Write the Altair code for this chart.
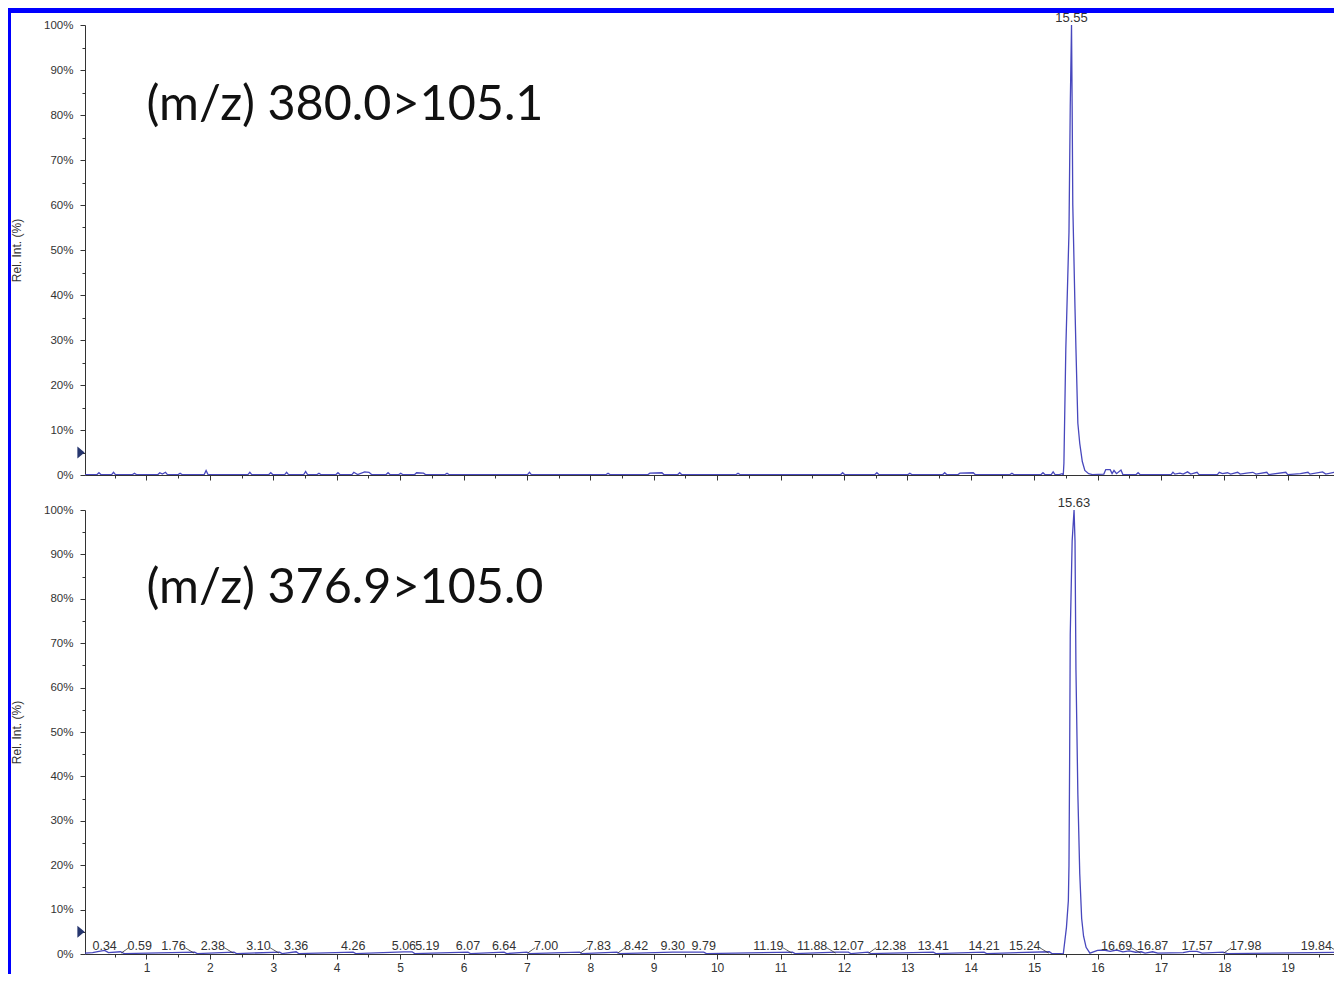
import altair as alt
import pandas as pd

# ---------------- data ----------------
# upper trace: (m/z) 380.0>105.1
top_time = [0.03, 0.22, 0.25, 0.28, 0.45, 0.48, 0.51, 0.78, 0.81, 0.84, 1.18, 1.21, 1.25, 1.30, 1.33,
            1.50, 1.53, 1.56, 1.91, 1.94, 1.97, 2.60, 2.63, 2.66, 2.93, 2.96, 2.99, 3.18, 3.21, 3.24,
            3.48, 3.51, 3.54, 3.69, 3.72, 3.75, 3.99, 4.02, 4.05, 4.24, 4.27, 4.33, 4.44, 4.51, 4.55,
            4.78, 4.81, 4.84, 4.98, 5.01, 5.04, 5.23, 5.26, 5.37, 5.40, 5.71, 5.74, 5.77, 7.01, 7.04,
            7.07, 8.25, 8.28, 8.31, 8.91, 8.94, 9.13, 9.16, 9.38, 9.41, 9.44, 10.30, 10.33, 10.36,
            11.95, 11.98, 12.01, 12.49, 12.52, 12.55, 13.01, 13.04, 13.07, 13.56, 13.59, 13.62,
            13.80, 13.83, 14.04, 14.07, 14.62, 14.65, 14.68, 15.11, 15.14, 15.17, 15.27, 15.30,
            15.33, 15.40, 15.44, 15.46, 15.47, 15.50, 15.55, 15.57, 15.59, 15.60, 15.61, 15.645,
            15.66, 15.69, 15.72, 15.76, 15.80, 15.86, 15.92, 16.10, 16.13, 16.20, 16.23, 16.26,
            16.30, 16.37, 16.40, 16.61, 16.64, 16.67, 17.16, 17.19, 17.22, 17.30, 17.35, 17.42,
            17.47, 17.57, 17.60, 17.89, 17.92, 17.97, 18.05, 18.10, 18.21, 18.25, 18.35, 18.45,
            18.50, 18.67, 18.70, 18.97, 19.00, 19.20, 19.32, 19.35, 19.55, 19.60, 19.73, 19.85]
top_int = [0.1, 0.1, 0.5, 0.1, 0.1, 0.6, 0.1, 0.1, 0.4, 0.1, 0.1, 0.5, 0.2, 0.6, 0.1,
           0.1, 0.4, 0.1, 0.1, 1.0, 0.1, 0.1, 0.6, 0.1, 0.1, 0.5, 0.1, 0.1, 0.6, 0.1,
           0.1, 0.8, 0.1, 0.1, 0.4, 0.1, 0.1, 0.5, 0.1, 0.1, 0.6, 0.1, 0.7, 0.6, 0.1,
           0.1, 0.5, 0.1, 0.1, 0.4, 0.1, 0.1, 0.5, 0.4, 0.1, 0.1, 0.4, 0.1, 0.1, 0.6,
           0.1, 0.1, 0.4, 0.1, 0.1, 0.4, 0.5, 0.1, 0.1, 0.5, 0.1, 0.1, 0.4, 0.1,
           0.1, 0.5, 0.1, 0.1, 0.5, 0.1, 0.1, 0.4, 0.1, 0.1, 0.5, 0.1,
           0.1, 0.4, 0.5, 0.1, 0.1, 0.4, 0.1, 0.1, 0.5, 0.1, 0.1, 0.7,
           0.1, 0.1, 0.3, 0.0, 2.6, 28.0, 54.0, 82.0, 100.0, 82.0, 60.0, 37.0,
           28.0, 11.5, 7.0, 3.0, 1.0, 0.3, 0.1, 0.2, 1.2, 1.2, 0.3, 1.0,
           0.3, 1.1, 0.1, 0.1, 0.5, 0.1, 0.1, 0.6, 0.2, 0.4, 0.2, 0.7,
           0.2, 0.6, 0.1, 0.1, 0.6, 0.3, 0.5, 0.2, 0.6, 0.2, 0.4, 0.6,
           0.2, 0.6, 0.1, 0.6, 0.1, 0.3, 0.6, 0.2, 0.7, 0.2, 0.6, 0.3]

# lower trace: (m/z) 376.9>105.0
bot_time = [0.03, 0.15, 0.25, 0.34, 0.40, 0.59, 0.65, 1.76, 1.80, 2.38, 2.42, 3.10, 3.14, 3.36, 3.40,
            4.26, 4.30, 5.06, 5.19, 5.23, 6.07, 6.11, 6.64, 6.68, 7.00, 7.04, 7.83, 7.87, 8.42, 8.46,
            9.30, 9.79, 9.83, 11.19, 11.23, 11.88, 12.07, 12.11, 12.38, 12.42, 13.41, 13.45, 14.21,
            14.25, 15.24, 15.28, 15.42, 15.46, 15.51, 15.54, 15.55, 15.56, 15.57, 15.60, 15.63,
            15.645, 15.66, 15.69, 15.72, 15.75, 15.78, 15.82, 15.88, 16.00, 16.10, 16.20, 16.30,
            16.40, 16.50, 16.60, 16.69, 16.75, 16.87, 16.95, 17.35, 17.45, 17.57, 17.65, 17.98,
            18.05, 19.84, 19.85]
bot_int = [0.2, 0.3, 0.6, 0.8, 0.3, 0.5, 0.1, 0.4, 0.1, 0.4, 0.1, 0.4, 0.1, 0.5, 0.1,
           0.4, 0.1, 0.5, 0.5, 0.1, 0.4, 0.1, 0.4, 0.1, 0.4, 0.1, 0.4, 0.1, 0.4, 0.1,
           0.4, 0.4, 0.1, 0.4, 0.1, 0.4, 0.4, 0.1, 0.4, 0.1, 0.4, 0.1, 0.4,
           0.1, 0.5, 0.1, 0.1, 0.0, 6.0, 12.0, 20.0, 43.0, 72.0, 93.0, 100.0,
           93.0, 64.0, 36.0, 18.0, 8.0, 4.0, 1.5, 0.2, 0.8, 0.9, 0.6, 0.9,
           0.5, 0.7, 0.4, 0.5, 0.2, 0.5, 0.2, 0.3, 0.6, 0.6, 0.2, 0.4,
           0.1, 0.4, 0.3]

top_peak_time = [15.59]
top_peak_label = ["15.55"]
bot_peak_time = [15.63]
bot_peak_label = ["15.63"]

# small peak labels of the lower trace; side: c = centred, L = left with leader,
# R = right with leader, r = right without leader
label_time = [0.34, 0.59, 1.76, 2.38, 3.10, 3.36, 4.26, 5.06, 5.19, 6.07, 6.64, 7.00, 7.83, 8.42,
              9.30, 9.79, 11.19, 11.88, 12.07, 12.38, 13.41, 14.21, 15.24, 16.69, 16.87, 17.57,
              17.98, 19.84]
label_side = ["c", "R", "L", "L", "L", "c", "c", "c", "r", "c", "c", "R", "R", "R",
              "c", "c", "L", "L", "c", "R", "c", "c", "L", "L", "c", "c",
              "R", "L"]

transitions = ["(m/z) 380.0>105.1", "(m/z) 376.9>105.0"]
marker_level = [5]

x_tick_values = [0.5 * i for i in range(1, 40)]
y_tick_values = list(range(0, 101, 5))

# ---------------- styling ----------------
W = 1249
H_TOP = 450
H_BOT = 444
LINE = "#4747bd"
AXC = "#333333"
FONT = "Liberation Sans"
BLUE = "#0000ff"

xs = alt.Scale(domain=[0.03, 19.73], nice=False, zero=False)
ys = alt.Scale(domain=[0, 100], nice=False)

tick_cond_x = {"condition": {"test": "datum.value % 1 !== 0", "value": 3}, "value": 5}
tick_cond_y = {"condition": {"test": "datum.value % 10 !== 0", "value": 3}, "value": 5}


def x_axis(show_labels):
    kw = dict(values=x_tick_values, tickSize=tick_cond_x, grid=False, domainColor=AXC,
              tickColor=AXC, labelColor=AXC, labelFont=FONT, labelFontSize=12,
              labelPadding=3, title=None)
    if show_labels:
        return alt.Axis(labelExpr="datum.value % 1 === 0 ? format(datum.value, 'd') : ''",
                        labelFlush=False, labelOverlap=False, **kw)
    return alt.Axis(labels=False, **kw)


def y_axis():
    return alt.Axis(values=y_tick_values, tickSize=tick_cond_y, grid=False, domainColor=AXC,
                    tickColor=AXC, labelColor=AXC, labelFont=FONT, labelFontSize=11.5,
                    labelPadding=7, labelExpr="datum.value % 10 === 0 ? datum.value + '%' : ''",
                    labelOverlap=False, title="Rel. Int. (%)", titleFont=FONT, titleFontSize=12,
                    titleFontWeight="normal", titleColor=AXC, titlePadding=20)


one = pd.DataFrame({"a": [0]})


def panel(times, ints, peak_t, peak_lab, transition, height, bottom):
    def X(field):
        return alt.X(field, scale=xs, axis=x_axis(bottom))

    def Y(field):
        return alt.Y(field, scale=ys, axis=y_axis())

    df = pd.DataFrame({"t": times, "v": ints})
    line = alt.Chart(df).mark_line(color=LINE, strokeWidth=1.3, clip=True).encode(
        x=X("t:Q"), y=Y("v:Q"))
    pk = pd.DataFrame({"t": peak_t, "v": [100] * len(peak_t), "lab": peak_lab})
    peak_text = alt.Chart(pk).mark_text(font=FONT, fontSize=13, color=AXC, baseline="alphabetic",
                                        dy=-3).encode(x=X("t:Q"), y=Y("v:Q"), text="lab:N")
    ann = pd.DataFrame({"t": [1.0], "v": [79.0], "lab": [transition]})
    ann_text = alt.Chart(ann).mark_text(font="Lato", fontSize=48.5, color="#111111", align="left",
                                        baseline="alphabetic").encode(
        x=X("t:Q"), y=Y("v:Q"), text="lab:N")
    mk = pd.DataFrame({"t": [0.03], "v": marker_level})
    marker = alt.Chart(mk).mark_point(shape="M-0.6,-1L0.6,0L-0.6,1Z", filled=True, size=144,
                                      color="#26366e", opacity=1).encode(
        x=X("t:Q"), y=Y("v:Q"), xOffset=alt.value(-4))
    layers = [line, peak_text, ann_text, marker]

    if bottom:
        lab = pd.DataFrame({"t": label_time, "side": label_side})
        base = alt.Chart(lab).transform_calculate(lab="format(datum.t, '.2f')", v="0")
        for side, align, dx in [("c", "center", 0), ("L", "right", -9),
                                ("R", "left", 7), ("r", "left", 3)]:
            layers.append(
                base.transform_filter(alt.datum.side == side).mark_text(
                    font=FONT, fontSize=12.5, color=AXC, align=align, dx=dx,
                    baseline="alphabetic", dy=-4).encode(x=X("t:Q"), y=Y("v:Q"), text="lab:N"))
        leaders = base.transform_filter(
            "datum.side === 'L' || datum.side === 'R'").transform_calculate(
            xa="datum.side === 'L' ? datum.t - 0.15 : datum.t + 0.01",
            xb="datum.side === 'L' ? datum.t - 0.01 : datum.t + 0.13",
            ya="datum.side === 'L' ? 1.4 : 0.2",
            yb="datum.side === 'L' ? 0.2 : 1.4",
        ).mark_rule(color=AXC, strokeWidth=0.8, clip=True).encode(
            x=X("xa:Q"), x2="xb:Q", y=Y("ya:Q"), y2="yb:Q")
        layers.append(leaders)

    # decorative blue frame of the original figure
    if not bottom:
        frame_top = alt.Chart(one).mark_rect(color=BLUE).encode(
            x=alt.value(-77), x2=alt.value(W), y=alt.value(-17), y2=alt.value(-12))
        frame_left = alt.Chart(one).mark_rect(color=BLUE).encode(
            x=alt.value(-77), x2=alt.value(-74), y=alt.value(-17), y2=alt.value(height + 36))
        layers += [frame_top, frame_left]
    else:
        frame_left = alt.Chart(one).mark_rect(color=BLUE).encode(
            x=alt.value(-77), x2=alt.value(-74), y=alt.value(-1), y2=alt.value(height + 20))
        layers += [frame_left]

    return alt.layer(*layers).properties(width=W, height=height)


top = panel(top_time, top_int, top_peak_time, top_peak_label, transitions[0], H_TOP, False)
bot = panel(bot_time, bot_int, bot_peak_time, bot_peak_label, transitions[1], H_BOT, True)

chart = alt.vconcat(top, bot, spacing=35, bounds="flush").properties(
    padding=0, background="white"
).configure_view(stroke=None)

chart.save("out.html", embed_options={"renderer": "svg", "actions": False})
